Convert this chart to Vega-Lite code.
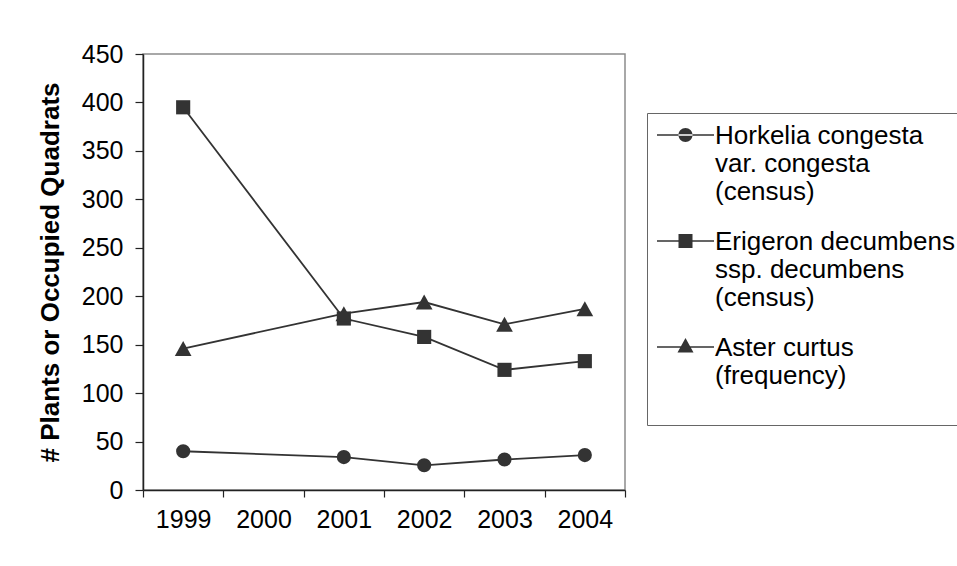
{
  "$schema": "https://vega.github.io/schema/vega-lite/v6.json",
  "autosize": "none",
  "width": 482,
  "height": 436,
  "padding": {"left": 143, "top": 54, "right": 332, "bottom": 76},
  "background": "white",
  "config": {
    "view": {"stroke": "#8c8c8c", "strokeWidth": 1.5},
    "font": "Liberation Sans",
    "axis": {
      "labelFont": "Liberation Sans",
      "labelFontSize": 25,
      "labelColor": "#000",
      "domainColor": "#222",
      "tickColor": "#222",
      "domainWidth": 1.5,
      "tickWidth": 1.2,
      "grid": false
    }
  },
  "data": {
    "values": [
      {"Year": "1999", "Series": "Horkelia", "Value": 40},
      {"Year": "2001", "Series": "Horkelia", "Value": 34},
      {"Year": "2002", "Series": "Horkelia", "Value": 25.5},
      {"Year": "2003", "Series": "Horkelia", "Value": 31.5},
      {"Year": "2004", "Series": "Horkelia", "Value": 36},
      {"Year": "1999", "Series": "Erigeron", "Value": 395},
      {"Year": "2001", "Series": "Erigeron", "Value": 177},
      {"Year": "2002", "Series": "Erigeron", "Value": 158},
      {"Year": "2003", "Series": "Erigeron", "Value": 124},
      {"Year": "2004", "Series": "Erigeron", "Value": 133},
      {"Year": "1999", "Series": "Aster", "Value": 146},
      {"Year": "2001", "Series": "Aster", "Value": 182},
      {"Year": "2002", "Series": "Aster", "Value": 194},
      {"Year": "2003", "Series": "Aster", "Value": 171},
      {"Year": "2004", "Series": "Aster", "Value": 187}
    ]
  },
  "encoding": {
    "x": {
      "field": "Year",
      "type": "ordinal",
      "bandPosition": 0.5,
      "scale": {"type": "band", "domain": ["1999", "2000", "2001", "2002", "2003", "2004"], "paddingInner": 0, "paddingOuter": 0},
      "axis": {"title": null, "labelAngle": 0, "tickBand": "extent", "tickSize": 7, "labelPadding": 10}
    },
    "y": {
      "field": "Value",
      "type": "quantitative",
      "scale": {"domain": [0, 450], "nice": false},
      "axis": {
        "title": "# Plants or Occupied Quadrats",
        "titleFont": "Liberation Sans",
        "titleFontSize": 26,
        "titleFontWeight": "bold",
        "titleColor": "#000",
        "titlePadding": 18,
        "values": [0, 50, 100, 150, 200, 250, 300, 350, 400, 450],
        "tickSize": 8,
        "labelPadding": 12
      }
    }
  },
  "resolve": {"scale": {"shape": "independent"}, "legend": {"shape": "independent"}},
  "layer": [
    {
      "mark": {"type": "line", "color": "#333", "strokeWidth": 1.8},
      "encoding": {"detail": {"field": "Series"}}
    },
    {
      "mark": {"type": "point", "filled": true, "color": "#333", "opacity": 1, "size": 200},
      "encoding": {
        "shape": {
          "field": "Series",
          "type": "nominal",
          "scale": {"domain": ["Horkelia", "Erigeron", "Aster"], "range": ["circle", "square", "M0,-1.06L1.18,1.06H-1.18Z"]},
          "legend": null
        }
      }
    },
    {
      "transform": [{"filter": "false"}],
      "mark": {"type": "point", "filled": true, "color": "#333", "opacity": 1},
      "encoding": {
        "shape": {
          "field": "Series",
          "type": "nominal",
          "scale": {"domain": ["Horkelia", "Erigeron", "Aster"], "range": ["M-2.2,-1.95H9.2V-1.65H-2.2ZM2.1,-1.8A1.4,1.4,0,1,0,4.9,-1.8A1.4,1.4,0,1,0,2.1,-1.8Z", "M-2.2,-1.95H9.2V-1.65H-2.2ZM2.1,-3.2H4.9V-0.4H2.1Z", "M-2.2,-1.95H9.2V-1.65H-2.2ZM3.5,-3.6L5.1,-0.7H1.9Z"]},
          "legend": {
            "title": "\u00a0",
            "titleFontSize": 1,
            "titlePadding": 9,
            "orient": "none",
            "legendX": 504,
            "legendY": 59,
            "padding": 8,
            "strokeColor": "#666",
            "fillColor": "white",
            "symbolSize": 100,
            "symbolOpacity": 1,
            "symbolFillColor": "#333",
            "symbolStrokeWidth": 1.5,
            "symbolOffset": 0,
            "labelFont": "Liberation Sans",
            "labelFontSize": 26,
            "labelColor": "#000",
            "labelLimit": 0,
            "labelOffset": 34,
            "labelBaseline": "alphabetic",
            "rowPadding": 24,
            "labelExpr": "datum.value == 'Horkelia' ? ['\u2002Horkelia congesta', 'var. congesta', '(census)'] : datum.value == 'Erigeron' ? ['Erigeron decumbens', 'ssp. decumbens', '(census)'] : ['Aster curtus', '(frequency)', '\u00a0']"
          }
        }
      }
    }
  ]
}
